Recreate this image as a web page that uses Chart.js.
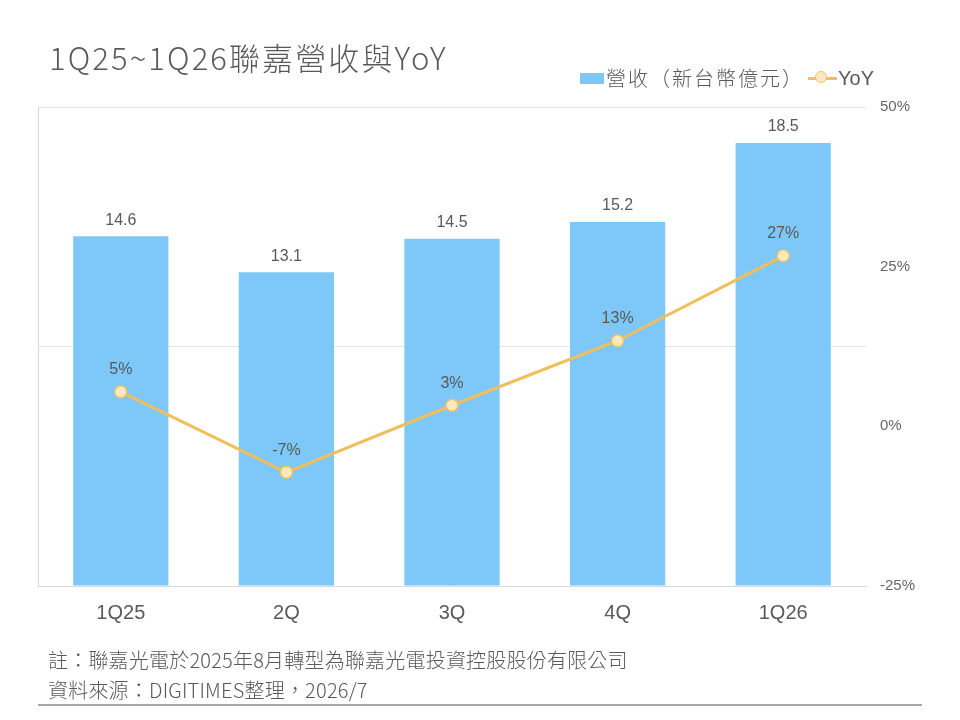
<!DOCTYPE html>
<html>
<head>
<meta charset="utf-8">
<script src="https://cdn.jsdelivr.net/npm/chart.js@4"></script>
<style>
  html, body { margin: 0; padding: 0; background: #fff; }
  #wrap { position: relative; width: 960px; height: 720px; overflow: hidden; font-family: "Noto Sans CJK TC", "Noto Sans", sans-serif; color: #595959; }
  #c { position: absolute; left: 0; top: 0; }
  .t { position: absolute; white-space: nowrap; line-height: 1; }
  #title { left: 49px; top: 41px; font-size: 31px; letter-spacing: 2.1px; font-weight: 300; color: #595959; }
  #leg1sw { position: absolute; left: 580px; top: 73px; width: 24px; height: 11px; background: #7DC8F9; }
  #leg1 { left: 606px; top: 68px; font-size: 20px; letter-spacing: 2px; font-weight: 300; }
  #leg2line { position: absolute; left: 808px; top: 77px; width: 29px; height: 3px; background: #F0BE5A; }
  #leg2pt { position: absolute; left: 815px; top: 71px; width: 12px; height: 12px; border-radius: 50%; background: #FDE8C0; border: 1.5px solid #F0C266; box-sizing: border-box; }
  #leg2 { left: 838px; top: 68px; font-size: 20px; font-family: "Liberation Sans", "Noto Sans CJK TC", sans-serif; }
  #note1 { left: 48px; top: 650px; font-size: 20px; font-weight: 300; letter-spacing: 0.2px; }
  #note2 { left: 48px; top: 680px; font-size: 20px; font-weight: 300; letter-spacing: 0.2px; }
  #rule { position: absolute; left: 38px; top: 704px; width: 884px; height: 2px; background: #A6A6A6; }
</style>
</head>
<body>
<div id="wrap">
  <canvas id="c" width="960" height="720"></canvas>
  <div class="t" id="title">1Q25~1Q26聯嘉營收與YoY</div>
  <div id="leg1sw"></div>
  <div class="t" id="leg1">營收（新台幣億元）</div>
  <div id="leg2line"></div>
  <div id="leg2pt"></div>
  <div class="t" id="leg2">YoY</div>
  <div class="t" id="note1">註：聯嘉光電於2025年8月轉型為聯嘉光電投資控股股份有限公司</div>
  <div class="t" id="note2">資料來源：DIGITIMES整理，2026/7</div>
  <div id="rule"></div>
</div>
<script>
const categories = ["1Q25", "2Q", "3Q", "4Q", "1Q26"];
const revenue = [14.6, 13.1, 14.5, 15.2, 18.5];
const yoy = [5.4, -7.2, 3.3, 13.4, 26.7];
const revenueLabel = "營收（新台幣億元）";
const yoyLabel = "YoY";
const rightTicks = [-25, 0, 25, 50];

const numFont = '"Liberation Sans", "Noto Sans", sans-serif';
const textColor = '#595959';

const labelPlugin = {
  id: 'valueLabels',
  afterDatasetsDraw(chart) {
    const ctx = chart.ctx;
    ctx.save();
    ctx.font = '16px ' + numFont;
    ctx.fillStyle = textColor;
    ctx.textAlign = 'center';
    ctx.textBaseline = 'middle';
    const barMeta = chart.getDatasetMeta(0);
    barMeta.data.forEach((el, i) => {
      ctx.fillText(revenue[i].toFixed(1), el.x, el.y - 16);
    });
    const lineMeta = chart.getDatasetMeta(1);
    lineMeta.data.forEach((el, i) => {
      ctx.fillText(Math.round(yoy[i]) + '%', el.x, el.y - 22);
    });
    ctx.restore();
  }
};

new Chart(document.getElementById('c'), {
  data: {
    labels: categories,
    datasets: [
      {
        type: 'bar',
        label: revenueLabel,
        data: revenue,
        backgroundColor: '#7DC8F9',
        borderWidth: 0,
        barPercentage: 0.575,
        categoryPercentage: 1.0,
        yAxisID: 'y',
        order: 1
      },
      {
        type: 'line',
        label: yoyLabel,
        data: yoy,
        borderColor: '#F0BE5A',
        borderWidth: 3,
        pointRadius: 6,
        pointBackgroundColor: '#FDE8C0',
        pointBorderColor: '#F0C266',
        pointBorderWidth: 1.5,
        tension: 0,
        yAxisID: 'y1',
        order: 0
      }
    ]
  },
  options: {
    responsive: false,
    animation: false,
    layout: { padding: { left: 38, top: 107, right: 0, bottom: 84 } },
    plugins: { legend: { display: false }, tooltip: { enabled: false } },
    scales: {
      x: {
        grid: { display: false, drawTicks: false },
        border: { display: true, color: '#D9D9D9', width: 1 },
        ticks: { color: textColor, font: { family: numFont, size: 20 }, padding: 15 },
        afterFit(s) { s.height = 50; }
      },
      y: {
        position: 'left',
        min: 0, max: 20,
        ticks: { display: false, stepSize: 10 },
        grid: { color: '#E3E3E3', drawTicks: false, lineWidth: 1 },
        border: { display: true, color: '#D9D9D9' },
        afterFit(s) { s.width = 0; }
      },
      y1: {
        position: 'right',
        min: -25, max: 50,
        afterBuildTicks(s) { s.ticks = rightTicks.map(v => ({ value: v })); },
        ticks: { color: '#666666', font: { family: numFont, size: 15 }, padding: 14, callback: v => v + '%' },
        grid: { display: false, drawTicks: false },
        border: { display: false },
        afterFit(s) { s.width = 94; }
      }
    }
  },
  plugins: [labelPlugin]
});
</script>
</body>
</html>
